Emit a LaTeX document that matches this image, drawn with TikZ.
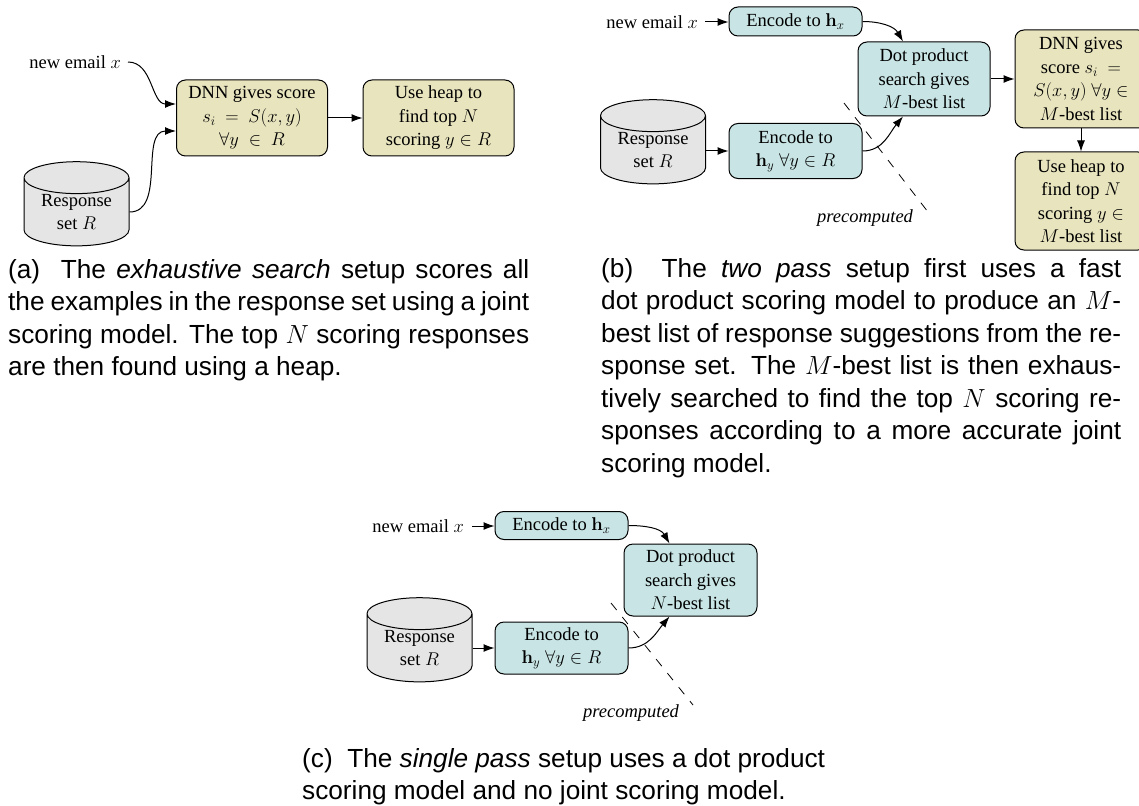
\RequirePackage{fix-cm}
\documentclass[tikz,border=0pt]{standalone}
\usepackage{amsmath}
\usepackage[no-math]{fontspec}
\setmainfont{Liberation Serif}
\setsansfont{Liberation Sans}
\usetikzlibrary{shapes.geometric,arrows.meta}
\definecolor{tealbox}{RGB}{200,228,228}
\definecolor{sandbox}{RGB}{232,228,190}
\definecolor{cylgray}{RGB}{229,229,229}
\newlength{\capw}
\newcommand{\capline}[1]{\hbox to \capw{#1}}
\tikzset{x=1pt,y=-1pt,
 diag/.style={font=\fontsize{18.5}{23.5}\selectfont,align=center,inner sep=0pt},
 rbox/.style={diag,draw,line width=1pt,rounded corners=9pt},
 teal/.style={rbox,fill=tealbox},
 sand/.style={rbox,fill=sandbox},
 cyl/.style={diag,draw,line width=1pt,fill=cylgray,cylinder,shape border rotate=90,aspect=0.45,minimum width=105pt,minimum height=76pt},
 conn/.style={line width=1pt,-{Latex[length=11pt,width=8pt]}},
 dashln/.style={line width=0.8pt,dash pattern=on 9pt off 9pt},
 prec/.style={diag,font=\fontsize{18.5}{23.5}\selectfont\itshape},
 capt/.style={anchor=base west,inner sep=0pt,font=\fontsize{26.2}{32.5}\selectfont\sffamily}
}
\begin{document}
\begin{tikzpicture}
\useasboundingbox (0,0) rectangle (1139,805);
% (a)
\node[diag,anchor=east] (ea) at (121,62) {new email $x$};
\node[sand,minimum width=151pt,minimum height=76pt] (da) at (252,118) {DNN gives score\\$s_i\ =\ S(x,y)$\\$\forall y\ \in\ R$};
\node[sand,minimum width=151pt,minimum height=76pt] (ha) at (438.5,118) {Use heap to\\find top $N$\\scoring $y\in R$};
\node[cyl] (ca) at (76.5,212) {Response\\set $R$};
\coordinate (ea1) at (128,62);
\draw[conn] (ea1) to[out=0,in=180] (da.west |- 0,104);
\draw[conn] (ca.east) to[out=0,in=180] (da.west |- 0,131);
\draw[conn] (da) -- (ha);
% (b)
\node[diag,anchor=east] (eb) at (698,22) {new email $x$};
\node[teal,minimum width=133pt,minimum height=29pt] (xb) at (795.5,21.5) {Encode to $\mathbf{h}_x$};
\node[teal,minimum width=132pt,minimum height=74pt] (pb) at (924,79) {Dot product\\search gives\\$M$-best list};
\node[sand,minimum width=132pt,minimum height=98pt] (db) at (1081,79) {DNN gives\\score $s_i\ =$\\$S(x,y)\ \forall y\in$\\$M$-best list};
\node[sand,minimum width=132pt,minimum height=98pt] (hb) at (1081,201) {Use heap to\\find top $N$\\scoring $y\in$\\$M$-best list};
\node[teal,minimum width=133pt,minimum height=55pt] (yb) at (795.5,151) {Encode to\\$\mathbf{h}_y\ \forall y\in R$};
\node[cyl] (cb) at (653,150) {Response\\set $R$};
\coordinate (tb1) at (844,103); \coordinate (tb2) at (928,212);
\draw[dashln] (tb1) -- (tb2);
\node[prec] (prb) at (865,218) {precomputed};
\coordinate (eb1) at (705,22);
\coordinate (pbn) at ([xshift=-21pt]pb.north);
\coordinate (pbs) at ([xshift=-21pt]pb.south);
\draw[conn] (eb1) -- (xb.west |- eb1);
\draw[conn] (xb.east) to[out=0,in=120] (pbn);
\draw[conn] (yb.east) to[out=0,in=-130] (pbs);
\draw[conn] (cb.east |- yb.west) -- (yb.west);
\draw[conn] (pb) -- (db);
\draw[conn] (db) -- (hb);
% (c)
\node[diag,anchor=east] (ec) at (464,526) {new email $x$};
\node[teal,minimum width=133pt,minimum height=28pt] (xc) at (561.5,525.5) {Encode to $\mathbf{h}_x$};
\node[teal,minimum width=133pt,minimum height=72pt] (pc) at (690.5,580) {Dot product\\search gives\\$N$-best list};
\node[teal,minimum width=133pt,minimum height=52pt] (yc) at (561.5,648) {Encode to\\$\mathbf{h}_y\ \forall y\in R$};
\node[cyl] (cc) at (419.5,648) {Response\\set $R$};
\coordinate (tc1) at (611,603); \coordinate (tc2) at (693,705);
\draw[dashln] (tc1) -- (tc2);
\node[prec] (prc) at (631,713) {precomputed};
\coordinate (ec1) at (472,526);
\coordinate (pcn) at ([xshift=-21pt]pc.north);
\coordinate (pcs) at ([xshift=-21pt]pc.south);
\draw[conn] (ec1) -- (xc.west |- ec1);
\draw[conn] (xc.east) to[out=0,in=120] (pcn);
\draw[conn] (yc.east) to[out=0,in=-130] (pcs);
\draw[conn] (cc.east |- yc.west) -- (yc.west);
% captions
\setlength{\capw}{521pt}
\node[capt] (capa) at (8,278) {\vtop{\capline{(a)\ \ The \textit{exhaustive search} setup scores all}\capline{the examples in the response set using a joint}\capline{scoring model. The top $N$ scoring responses}\hbox{are then found using a heap.}}};
\setlength{\capw}{520pt}
\node[capt] (capb) at (601,277) {\vtop{\capline{(b)\ \ The \textit{two pass} setup first uses a fast}\capline{dot product scoring model to produce an $M$-}\capline{best list of response suggestions from the re-}\capline{sponse set. The $M$-best list is then exhaus-}\capline{tively searched to find the top $N$ scoring re-}\capline{sponses according to a more accurate joint}\hbox{scoring model.}}};
\node[capt] (capc) at (302,767) {\vtop{\hbox{(c)\ \ The \textit{single pass} setup uses a dot product}\hbox{scoring model and no joint scoring model.}}};
\end{tikzpicture}
\end{document}
